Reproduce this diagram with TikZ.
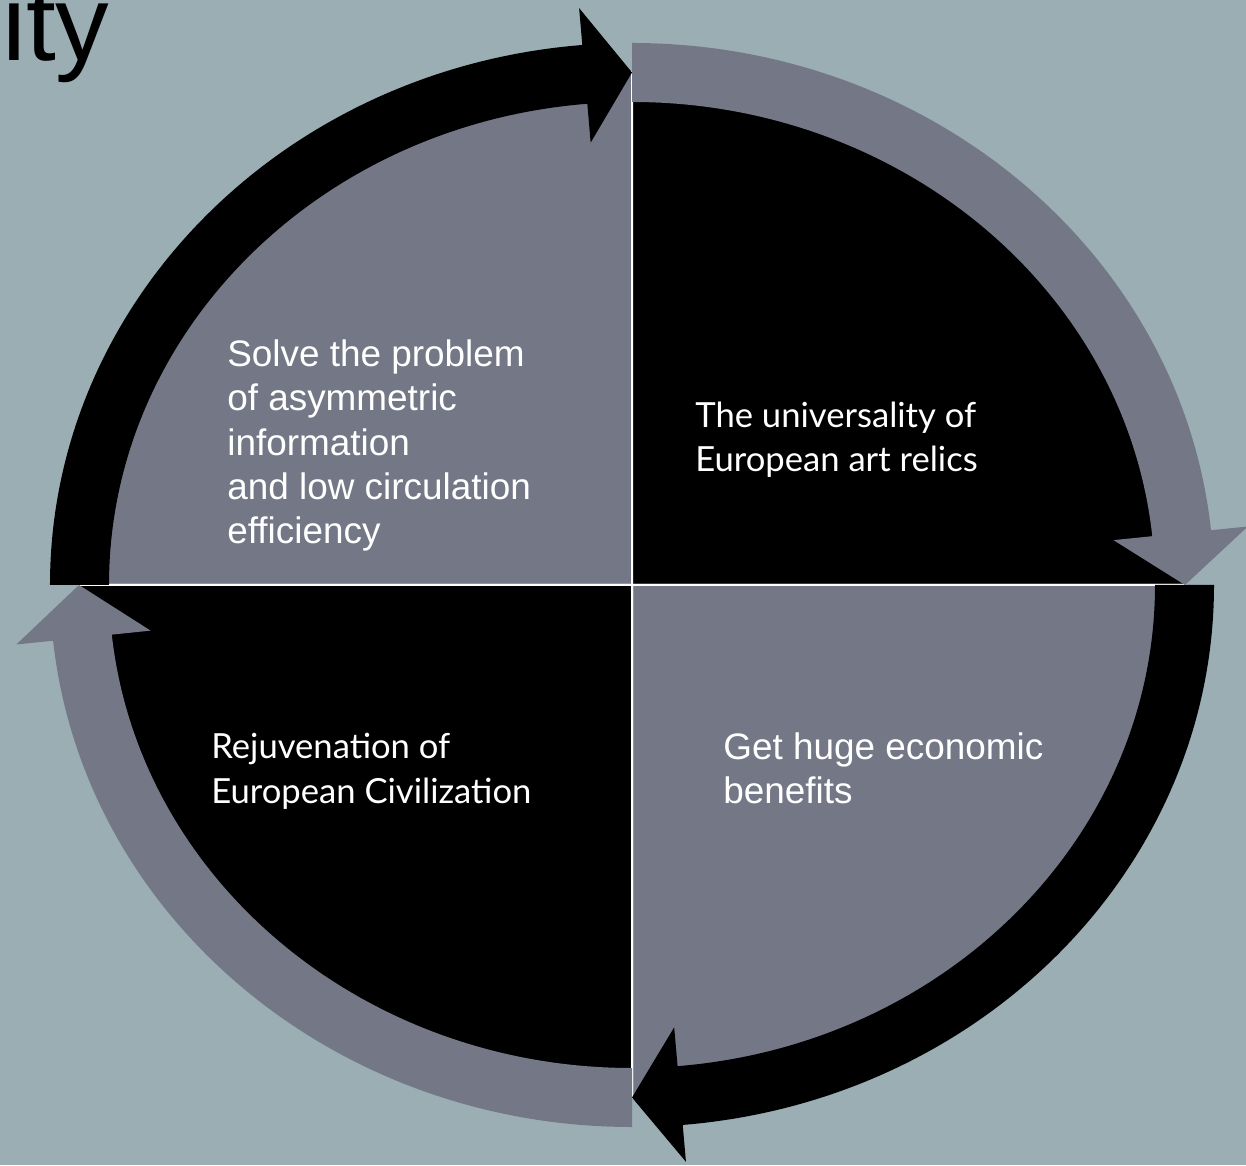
\documentclass[tikz,border=0pt]{standalone}
\usepackage{fontspec}
\setmainfont{Liberation Sans}
\newfontfamily\gillfont{Lato}

\definecolor{slatebg}{HTML}{9AAEB4}
\definecolor{quadgray}{HTML}{747886}

\begin{document}
\begin{tikzpicture}[x=0.02cm,y=0.02cm,
  quad/.style={draw=white,line width=0.04cm},
  arialtxt/.style={text=white,anchor=base west,inner sep=0pt,align=left,font=\fontsize{21}{25.3}\selectfont},
  gilltxt/.style={text=white,anchor=base west,inner sep=0pt,align=left,font=\gillfont\fontsize{19.7}{25.5}\selectfont}]
  \useasboundingbox (-632,-580) rectangle (614,585);
  \fill[slatebg] (-632,-580) rectangle (614,585);
  \clip (-632,-580) rectangle (614,585);

  \node[anchor=base west,inner sep=0pt,font=\fontsize{61}{70}\selectfont] (title) at (-630,524) {ity};

  % quarters
  \filldraw[quad,fill=quadgray] (0,0) -- (180:553 and 512.5) arc[start angle=180,end angle=90,x radius=553,y radius=512.5] -- cycle;
  \filldraw[quad,fill=black] (0,0) -- (90:553 and 512.5) arc[start angle=90,end angle=0,x radius=553,y radius=512.5] -- cycle;
  \filldraw[quad,fill=quadgray] (0,0) -- (0:553 and 512.5) arc[start angle=0,end angle=-90,x radius=553,y radius=512.5] -- cycle;
  \filldraw[quad,fill=black] (0,0) -- (-90:553 and 512.5) arc[start angle=-90,end angle=-180,x radius=553,y radius=512.5] -- cycle;

  % circular arrows, clockwise
  \fill[black] (180:582 and 542) arc[start angle=180,end angle=94.9,x radius=582,y radius=542]
    -- (94.9:619 and 579) -- (90:553 and 512.5) -- (94.9:484 and 444)
    -- (94.9:523 and 483) arc[start angle=94.9,end angle=180,x radius=523,y radius=483] -- cycle;
  \fill[quadgray] (90:582 and 542) arc[start angle=90,end angle=5.8,x radius=582,y radius=542]
    -- (5.8:619 and 579) -- (0:553 and 512.5) -- (5.8:484 and 444)
    -- (5.8:523 and 483) arc[start angle=5.8,end angle=90,x radius=523,y radius=483] -- cycle;
  \fill[black] (0:582 and 542) arc[start angle=0,end angle=-85,x radius=582,y radius=542]
    -- (-85:619 and 579) -- (-90:553 and 512.5) -- (-85:484 and 444)
    -- (-85:523 and 483) arc[start angle=-85,end angle=0,x radius=523,y radius=483] -- cycle;
  \fill[quadgray] (-90:582 and 542) arc[start angle=-90,end angle=-174.1,x radius=582,y radius=542]
    -- (-174.1:619 and 579) -- (-180:553 and 512.5) -- (-174.1:484 and 444)
    -- (-174.1:523 and 483) arc[start angle=-174.1,end angle=-90,x radius=523,y radius=483] -- cycle;

  % base anchor sits on the last line
  \node[arialtxt] (solve) at (-405,41) {Solve the problem\\of asymmetric\\information\\and low circulation\\efficiency};
  \node[gilltxt] (univ) at (63,113) {The universality of\\European art relics};
  \node[gilltxt] (rejuv) at (-421,-218) {Rejuvenation of\\European Civilization};
  \node[arialtxt] (gain) at (91,-218.5) {Get huge economic\\benefits};
\end{tikzpicture}
\end{document}
